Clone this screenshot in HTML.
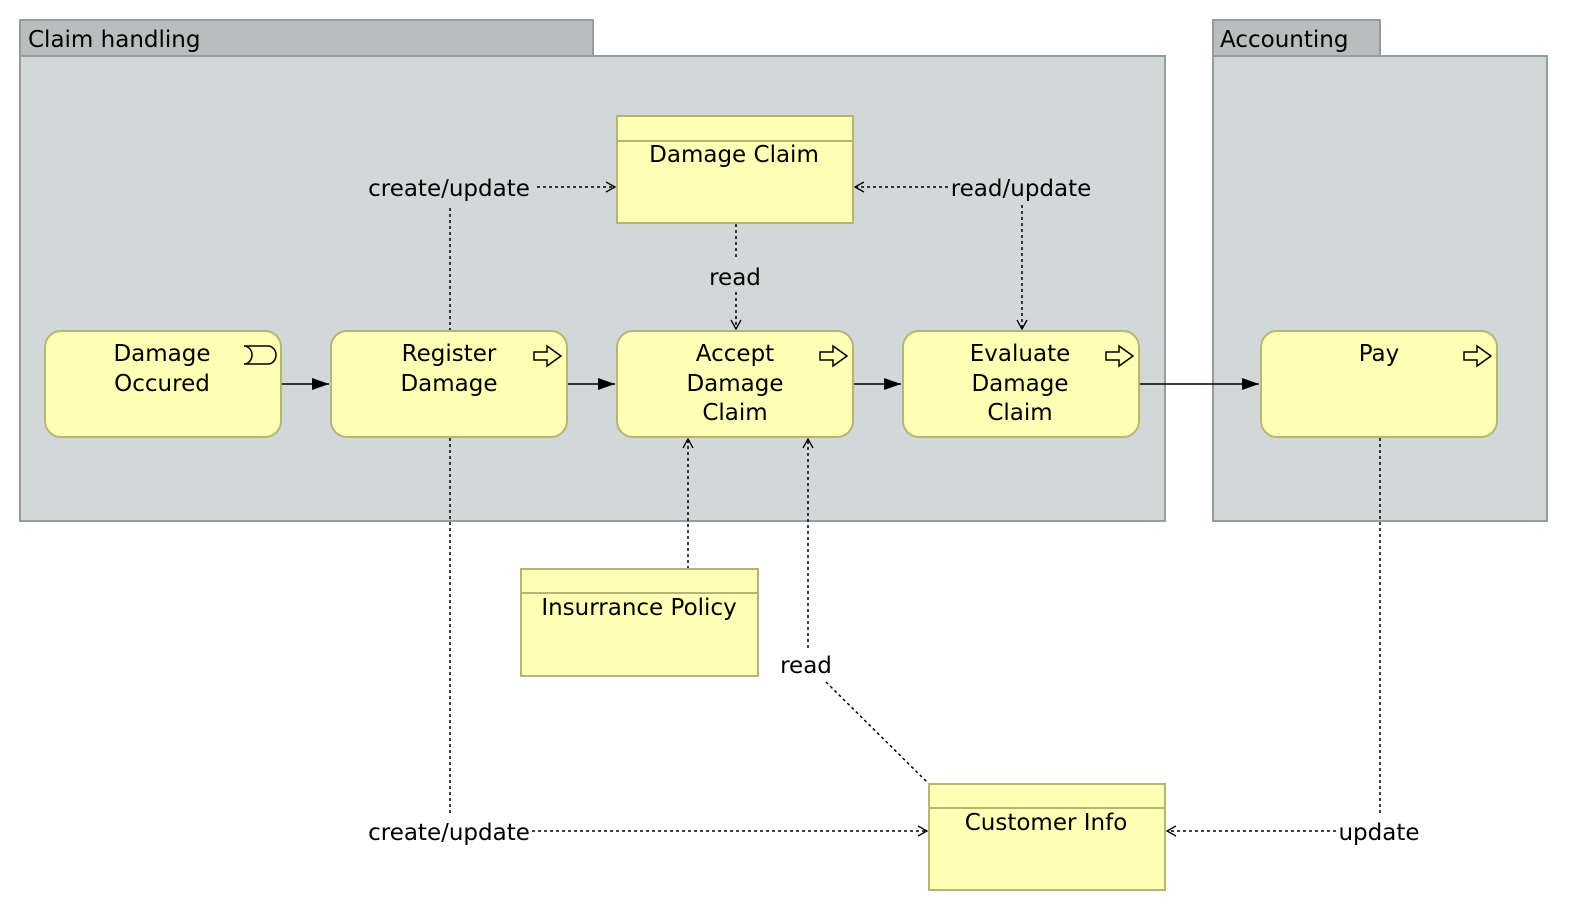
<!DOCTYPE html>
<html><head><style>html,body{margin:0;background:#fff;overflow:hidden}svg{display:block}text{font-family:"DejaVu Sans","Liberation Sans",sans-serif;font-size:23px;fill:#000}</style></head><body>
<svg width="1578" height="918" viewBox="0 0 1578 918" xmlns="http://www.w3.org/2000/svg">
<defs>
<marker id="open" markerWidth="12" markerHeight="12" refX="10" refY="6" orient="auto" markerUnits="userSpaceOnUse"><path d="M1,1 L10,6 L1,11" fill="none" stroke="#000" stroke-width="1.3"/></marker>
<marker id="fill" markerWidth="18" markerHeight="14" refX="17" refY="7" orient="auto" markerUnits="userSpaceOnUse"><path d="M0,1 L17,7 L0,13 Z" fill="#000"/></marker>
</defs>
<g stroke="#9a9c9c" stroke-width="2">
<rect x="20" y="20" width="573" height="36" fill="#b9bdbe"/>
<rect x="20" y="56" width="1145" height="465" fill="#d2d8d8"/>
<rect x="1213" y="20" width="167" height="36" fill="#b9bdbe"/>
<rect x="1213" y="56" width="334" height="465" fill="#d2d8d8"/>
</g>
<text x="28" y="47">Claim handling</text>
<text x="1220" y="47">Accounting</text>
<g stroke="#000" stroke-width="1.5" stroke-dasharray="3,3" fill="none">
<path d="M450,331 V205"/>
<path d="M537,187 H615" marker-end="url(#open)"/>
<path d="M948,187 H855" marker-end="url(#open)"/>
<path d="M1022,205 V329" marker-end="url(#open)"/>
<path d="M736,224 V260"/>
<path d="M736,292 V329" marker-end="url(#open)"/>
<path d="M688,569 V439" marker-end="url(#open)"/>
<path d="M808,648 V439" marker-end="url(#open)"/>
<path d="M826,682 L929,784"/>
<path d="M450,438 V815"/>
<path d="M532,831 H927" marker-end="url(#open)"/>
<path d="M1380,438 V815"/>
<path d="M1336,831 H1167" marker-end="url(#open)"/>
</g>
<g stroke="#000" stroke-width="1.5">
<path d="M281,384 H329" marker-end="url(#fill)"/>
<path d="M567,384 H615" marker-end="url(#fill)"/>
<path d="M853,384 H901" marker-end="url(#fill)"/>
<path d="M1139,384 H1259" marker-end="url(#fill)"/>
</g>
<g fill="#ffffb5" stroke="#b5b573" stroke-width="2">
<rect x="45" y="331" width="236" height="106" rx="16"/>
<rect x="331" y="331" width="236" height="106" rx="16"/>
<rect x="617" y="331" width="236" height="106" rx="16"/>
<rect x="903" y="331" width="236" height="106" rx="16"/>
<rect x="1261" y="331" width="236" height="106" rx="16"/>
<rect x="617" y="116" width="236" height="107"/>
<path d="M617,141 H853"/>
<rect x="521" y="569" width="237" height="107"/>
<path d="M521,593 H758"/>
<rect x="929" y="784" width="236" height="106"/>
<path d="M929,808 H1165"/>
</g>
<g fill="none" stroke="#000" stroke-width="1.5">
<path d="M244,346 H268 A8,9 0 0 1 268,364 H244 A8,9 0 0 0 244,346 Z"/>
<g id="arr"><path d="M534,352 H547 V346 L561,356 L547,366 V360 H534 Z"/></g>
<use href="#arr" x="286"/>
<use href="#arr" x="572"/>
<use href="#arr" x="930"/>
</g>
<g text-anchor="middle">
<text x="162" y="361">Damage</text><text x="162" y="391">Occured</text>
<text x="449" y="361">Register</text><text x="449" y="391">Damage</text>
<text x="735" y="361">Accept</text><text x="735" y="391">Damage</text><text x="735" y="420">Claim</text>
<text x="1020" y="361">Evaluate</text><text x="1020" y="391">Damage</text><text x="1020" y="420">Claim</text>
<text x="1379" y="361">Pay</text>
<text x="734" y="162">Damage Claim</text>
<text x="639" y="615">Insurrance Policy</text>
<text x="1046" y="830">Customer Info</text>
<text x="449" y="196">create/update</text>
<text x="1021" y="196">read/update</text>
<text x="735" y="285">read</text>
<text x="806" y="673">read</text>
<text x="449" y="840">create/update</text>
<text x="1379" y="840">update</text>
</g>
</svg>
</body></html>
